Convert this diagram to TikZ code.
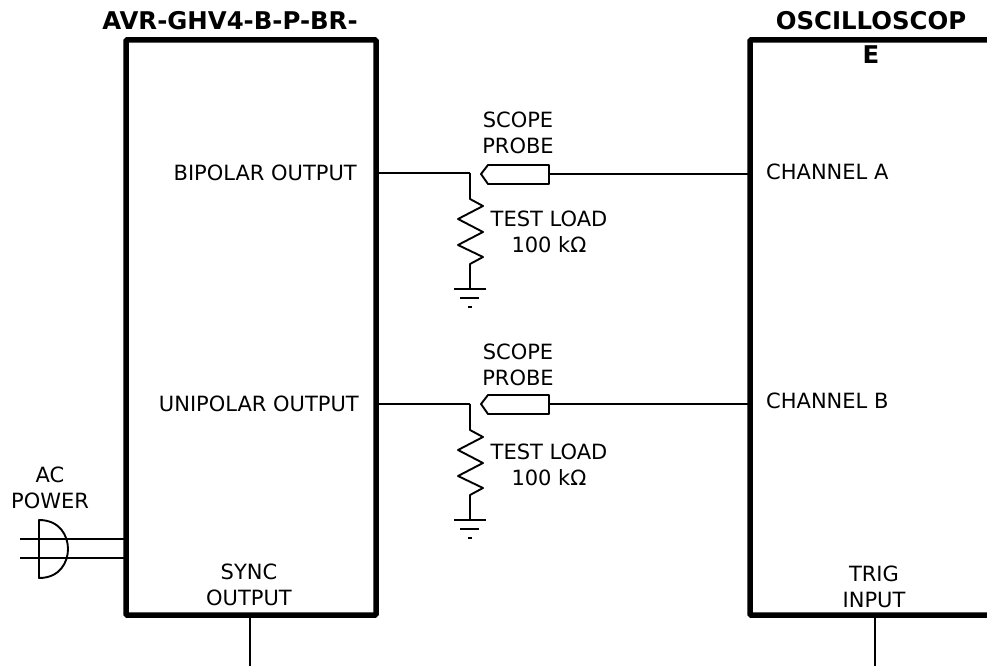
\documentclass[tikz,border=0pt]{standalone}
\usepackage{fontspec}
\setmainfont{DejaVu Sans}
\usetikzlibrary{calc}
\tikzset{
  x=1pt,y=-1pt,
  devbox/.style={draw,line width=5.5pt,rounded corners=1pt,minimum width=250pt,inner sep=0pt,outer sep=0pt,anchor=north west},
  wire/.style={line width=1.9pt,line join=round},
  lbl/.style={inner sep=0pt,align=center,font=\fontsize{21}{26}\selectfont},
  ttl/.style={inner sep=0pt,align=center,font=\bfseries\fontsize{24.4}{26}\selectfont},
}
\newcommand{\resgnd}[2]{%
  \draw[wire] (#1) -- ++(0,26) -- ++(13,7) -- ++(-25,13) -- ++(25,13) -- ++(-25,13) -- ++(25,12) -- ++(-13,7) -- ++(0,25) coordinate (#2);
  \draw[wire] ($(#2)+(-16,0)$) -- ++(32,0);
  \draw[wire] ($(#2)+(-10,9)$) -- ++(19,0);
  \draw[wire] ($(#2)+(-2,18)$) -- ++(4,0);
}
\begin{document}
\begin{tikzpicture}
\useasboundingbox (0,0) rectangle (987,666);
% boxes
\node[devbox,minimum height=575pt] (dev) at (126,40) {};
\begin{scope}
\clip (0,0) rectangle (987,666);
\node[devbox,minimum height=575pt,minimum width=300pt] (osc) at (750,40) {};
\end{scope}
\node[ttl] (devt) at (230,21) {AVR-GHV4-B-P-BR-};
\node[ttl] (osct) at (871,21) {OSCILLOSCOP};
\node[ttl] (osce) at (871,55) {E};
% bipolar channel
\coordinate (j1) at (470,173);
\coordinate (d1) at (376,173);
\coordinate (c1) at (750,173);
\draw[wire] (d1) -- (j1);
\resgnd{j1}{g1}
\draw[wire] (481,174) -- (488,165) -- (549,165) -- (549,184) -- (488,184) -- cycle;
\coordinate (p1) at (549,174);
\draw[wire] (p1) -- (c1|-p1);
\node[lbl] (sp1) at (518,133) {SCOPE\\PROBE};
\node[lbl] (tl1) at (549,232) {TEST LOAD\\100 kΩ};
\node[lbl,anchor=east] (bo) at (357,173) {BIPOLAR OUTPUT};
\node[lbl,anchor=west] (ca) at (766,172) {CHANNEL A};
% unipolar channel
\coordinate (j2) at (470,404);
\coordinate (d2) at (376,404);
\coordinate (c2) at (750,404);
\draw[wire] (d2) -- (j2);
\resgnd{j2}{g2}
\draw[wire] (481,404) -- (488,395) -- (549,395) -- (549,414) -- (488,414) -- cycle;
\coordinate (p2) at (549,404);
\draw[wire] (p2) -- (c2);
\node[lbl] (sp2) at (518,365) {SCOPE\\PROBE};
\node[lbl] (tl2) at (549,465) {TEST LOAD\\100 kΩ};
\node[lbl,anchor=east] (uo) at (359,404) {UNIPOLAR OUTPUT};
\node[lbl,anchor=west] (cb) at (766,401) {CHANNEL B};
% AC power
\node[lbl] (ac) at (50,488) {AC\\POWER};
\coordinate (a1) at (20,539);
\coordinate (a2) at (20,558);
\draw[wire] (a1) -- (124,539);
\draw[wire] (a2) -- (124,558);
\draw[wire] (39,520) -- (39,578) .. controls (60,578) and (68,562) .. (68,549) .. controls (68,536) and (60,520) .. (39,520) -- cycle;
% sync
\node[lbl] (sy) at (249,585) {SYNC\\OUTPUT};
\node[lbl] (tr) at (874,587) {TRIG\\INPUT};
\coordinate (s1) at (250,666);
\coordinate (t1) at (875,666);
\draw[wire] (250,617) -- (s1);
\draw[wire] (875,617) -- (t1);
\end{tikzpicture}
\end{document}
